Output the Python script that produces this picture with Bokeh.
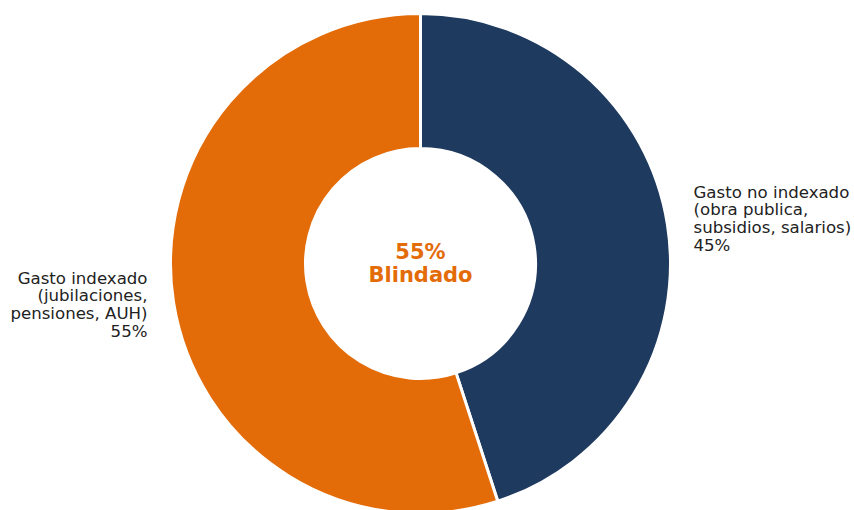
import numpy as np
from bokeh.plotting import figure
from bokeh.models import Range1d, ColumnDataSource
from bokeh.core.properties import value
from bokeh.embed import file_html
from bokeh.resources import INLINE

categories = ["Gasto no indexado\n(obra publica,\nsubsidios, salarios)", "Gasto indexado\n(jubilaciones,\npensiones, AUH)"]
shares = [45, 55]
colors = ["#1F3A5F", "#E36C09"]
center_text = "55%\nBlindado"

W, H = 854, 510
cx, cy = 420, H - 263
R_out, R_in = 250, 115

frac = np.array(shares, dtype=float) / sum(shares)
ends = np.pi / 2 - np.concatenate([[0], np.cumsum(frac)[:-1]]) * 2 * np.pi
starts = ends - frac * 2 * np.pi

src = ColumnDataSource(dict(start=starts, end=ends, color=colors))

p = figure(width=W, height=H, x_range=Range1d(0, W), y_range=Range1d(0, H),
           output_backend="svg", toolbar_location=None, min_border=0)
p.axis.visible = False
p.grid.visible = False
p.outline_line_color = None
p.background_fill_color = "white"
p.border_fill_color = "white"

p.annular_wedge(x=cx, y=cy, inner_radius=R_in, outer_radius=R_out,
                start_angle="start", end_angle="end", fill_color="color",
                line_color="white", line_width=3, source=src)

labels = [f"{c}\n{s}%" for c, s in zip(categories, shares)]
p.text(x=[693], y=[H - 182], text=[labels[0]], text_align="left", text_baseline="top",
       text_font=value("DejaVu Sans"), text_font_size="16.6px", text_color="#222222",
       text_line_height=0.94)
p.text(x=[147], y=[H - 268], text=[labels[1]], text_align="right", text_baseline="top",
       text_font=value("DejaVu Sans"), text_font_size="16.6px", text_color="#222222",
       text_line_height=0.94)
p.text(x=[cx], y=[cy], text=[center_text], text_align="center", text_baseline="middle",
       text_font=value("DejaVu Sans"), text_font_size="21px", text_font_style="bold",
       text_color=colors[1], text_line_height=0.95)

open("out.html", "w").write(file_html(p, INLINE))
